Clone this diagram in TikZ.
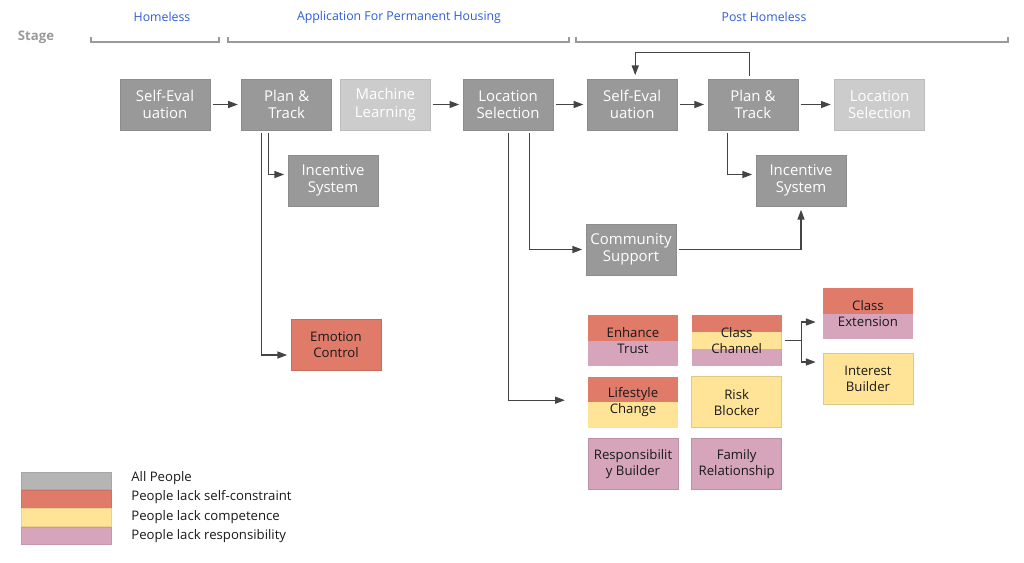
\documentclass[tikz,border=0pt]{standalone}
\usepackage{fontspec}
\setmainfont{Open Sans}
\usepackage{xcolor}
\definecolor{cBox}{HTML}{999999}
\definecolor{cBoxLine}{HTML}{8C8C8C}
\definecolor{cLight}{HTML}{CCCCCC}
\definecolor{cAll}{HTML}{B5B5B5}
\definecolor{cSelf}{HTML}{E07B6A}
\definecolor{cComp}{HTML}{FFE498}
\definecolor{cResp}{HTML}{D6A5BC}
\definecolor{cStage}{HTML}{2E5BD6}
\definecolor{cHead}{HTML}{9A9A9A}
\definecolor{cLine}{HTML}{444444}
\usepackage{tikz}
\usetikzlibrary{positioning,arrows.meta,calc}
\tikzset{
  node-box/.style={draw=cBoxLine,fill=cBox,minimum width=1.8cm,
    minimum height=1.02cm,inner sep=0pt,align=center,text=white,
    font=\fontsize{8.5}{10}\selectfont},
  node-light/.style={node-box,draw=cLight!92!black,fill=cLight},
  node-tag/.style={node-box,draw=#1!88!black,fill=#1,text=black!90,
    font=\fontsize{7.5}{9}\selectfont},
  % bands for groups that share one step
  band-two/.style 2 args={draw=none,path picture={
    \fill[#1] (path picture bounding box.north west) rectangle
      (path picture bounding box.east);
    \fill[#2] (path picture bounding box.west) rectangle
      (path picture bounding box.south east);}},
  band-three/.style n args={3}{draw=none,path picture={
    \fill[#1] (path picture bounding box.north west) rectangle
      ($(path picture bounding box.north east)!0.333!(path picture bounding box.south east)$);
    \fill[#2] ($(path picture bounding box.north west)!0.333!(path picture bounding box.south west)$)
      rectangle ($(path picture bounding box.north east)!0.667!(path picture bounding box.south east)$);
    \fill[#3] ($(path picture bounding box.north west)!0.667!(path picture bounding box.south west)$)
      rectangle (path picture bounding box.south east);}},
  stage-name/.style={text=cStage,font=\fontsize{7}{8}\selectfont},
  stage-head/.style={text=cHead,font=\fontsize{7.5}{9}\bfseries},
  stage-bracket/.style={draw=cHead,line width=0.6pt},
  legend-swatch/.style={draw=#1!92!black,fill=#1,minimum width=1.8cm,
    minimum height=0.35cm,inner sep=0pt},
  legend-text/.style={anchor=west,inner sep=0pt,text=black!90,
    font=\fontsize{7.5}{9}\selectfont},
  arrow/.style={-{Triangle[length=5.5pt,width=4pt]},line width=0.6pt,
    draw=cLine,shorten <=1.5pt,shorten >=2pt},
}

\begin{document}
\begin{tikzpicture}[x=0.02cm,y=-0.02cm]
  \useasboundingbox (0,0) rectangle (1024,562);
  % stages
  \node[stage-head] (stage) at (36,37) {Stage};
  \node[stage-name] (st-home) at (162,17) {Homeless};
  \node[stage-name] (st-apply) at (399,17) {Application For Permanent Housing};
  \node[stage-name] (st-post) at (764,17) {Post Homeless};
  \draw[stage-bracket] (91,37) |- (219,42) -- (219,37);
  \draw[stage-bracket] (228,37) |- (569,42) -- (569,37);
  \draw[stage-bracket] (576,37) |- (1008,42) -- (1008,37);

  % main line
  \node[node-box] (se1) at (165,104.5) {Self-Eval\\uation};
  \node[node-box,right=0.62cm of se1] (pt1) {Plan \&\\Track};
  \node[node-light,right=0.16cm of pt1] (ml) {Machine\\Learning};
  \node[node-box,right=0.64cm of ml] (ls1) {Location\\Selection};
  \node[node-box,right=0.67cm of ls1] (se2) {Self-Eval\\uation};
  \node[node-box,right=0.6cm of se2] (pt2) {Plan \&\\Track};
  \node[node-light,right=0.72cm of pt2] (ls2) {Location\\Selection};

  \node[node-box] (inc1) at (333,180.5) {Incentive\\System};
  \node[node-tag=cSelf] (emo) at (336,345) {Emotion\\Control};
  \node[node-box] (inc2) at (801,180.5) {Incentive\\System};
  \node[node-box] (cs) at (631,249.5) {Community\\Support};

  % services by group
  \node[node-tag=cSelf,band-two={cSelf}{cResp}] (et) at (633,340.5) {Enhance\\Trust};
  \node[node-tag=cSelf,band-three={cSelf}{cComp}{cResp},right=0.26cm of et] (cc) {Class\\Channel};
  \node[node-tag=cSelf,band-two={cSelf}{cComp},below=0.2cm of et] (lc) {Lifestyle\\Change};
  \node[node-tag=cComp,below=0.2cm of cc] (rb) {Risk\\Blocker};
  \node[node-tag=cResp,below=0.2cm of lc] (rsp) {Responsibilit\\y Builder};
  \node[node-tag=cResp,below=0.2cm of rb] (fr) {Family\\Relationship};
  \node[node-tag=cSelf,band-two={cSelf}{cResp}] (ce) at (868,313.5) {Class\\Extension};
  \node[node-tag=cComp] (ib) at (868,379) {Interest\\Builder};

  \draw[arrow] (se1) -- (pt1);
  \draw[arrow] (ml) -- (ls1);
  \draw[arrow] (ls1) -- (se2);
  \draw[arrow] (se2) -- (pt2);
  \draw[arrow] (pt2) -- (ls2);
  \draw[arrow] ($(pt2.north)+(-3,0)$) -- ++(0,-26) -| ($(se2.north)+(3,0)$);
  \draw[arrow] ($(pt1.south)+(-18,0)$) |- ($(inc1.west)+(0,-6)$);
  \draw[arrow] ($(pt1.south)+(-25,0)$) |- ($(emo.west)+(0,10)$);
  \draw[arrow] ($(pt2.south)+(-25,0)$) |- ($(inc2.west)+(0,-6)$);
  \draw[arrow] ($(ls1.south)+(21,0)$) |- (cs.west);
  \draw[arrow] (cs.east) -| (inc2.south);
  \draw[arrow,shorten >=13pt] (ls1.south) |- ($(lc.west)+(0,-2)$);
  \coordinate (cc-split) at ($(cc.east)+(19,0)$);
  \draw[arrow,shorten >=4pt] (cc.east) -- (cc-split) |- ($(ce.west)+(0,8.5)$);
  \draw[arrow,shorten <=0pt,shorten >=4pt] (cc-split) |- ($(ib.west)+(0,-17)$);

  % legend
  \node[legend-swatch=cAll] (lg-all) at (66,481) {};
  \node[legend-swatch=cSelf,below=0pt of lg-all] (lg-self) {};
  \node[legend-swatch=cComp,below=0pt of lg-self] (lg-comp) {};
  \node[legend-swatch=cResp,below=0pt of lg-comp] (lg-resp) {};
  \node[legend-text] (lt-all) at (131,478) {All People};
  \node[legend-text] (lt-self) at (131,497) {People lack self-constraint};
  \node[legend-text] (lt-comp) at (131,517) {People lack competence};
  \node[legend-text] (lt-resp) at (131,536) {People lack responsibility};
\end{tikzpicture}
\end{document}
